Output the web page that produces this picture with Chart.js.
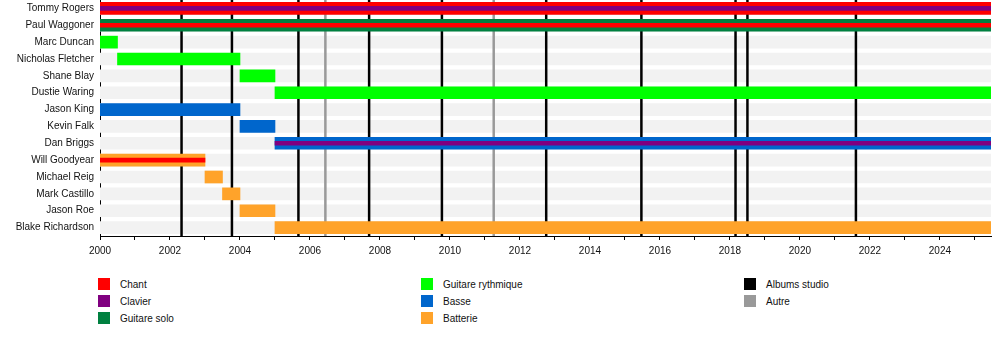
<!DOCTYPE html>
<html>
<head>
<meta charset="utf-8">
<script src="https://cdn.jsdelivr.net/npm/chart.js@4/dist/chart.umd.min.js"></script>
<style>
  body { margin: 0; background: #fff; font-family: "Liberation Sans", Arial, sans-serif; }
  #wrap { position: relative; width: 1000px; height: 364px; }
  #timeline { position: absolute; left: 0; top: 0; }
  .legend-item { position: absolute; font-size: 10px; color: #111; line-height: 12px; white-space: nowrap; }
  .legend-item span.box { position: absolute; left: 0; top: 0; width: 12px; height: 12px; }
  .legend-item span.txt { position: absolute; left: 22px; top: 1px; }
</style>
</head>
<body>
<div id="wrap">
  <canvas id="timeline" width="1000" height="264"></canvas>
  <div id="legend"></div>
</div>
<script>
// Membres (de haut en bas)
const members = ['Tommy Rogers', 'Paul Waggoner', 'Marc Duncan', 'Nicholas Fletcher', 'Shane Blay',
    'Dustie Waring', 'Jason King', 'Kevin Falk', 'Dan Briggs', 'Will Goodyear', 'Michael Reig',
    'Mark Castillo', 'Jason Roe', 'Blake Richardson'];

const PRESENT = 2025.46; // fin de la frise

const starts = [2000, 2000, 2000, 2000.5, 2004, 2005, 2000, 2004, 2005, 2000, 2003, 2003.5, 2004, 2005];
const ends = [PRESENT, PRESENT, 2000.5, 2004, 2005, PRESENT, 2004, 2005, PRESENT, 2003, 2003.5, 2004, 2005, PRESENT];

// Rôle principal et rôle secondaire (bande fine au centre)
const mainRoles = ['Chant', 'Guitare solo', 'Guitare rythmique', 'Guitare rythmique', 'Guitare rythmique',
    'Guitare rythmique', 'Basse', 'Basse', 'Basse', 'Batterie', 'Batterie', 'Batterie', 'Batterie', 'Batterie'];
const secondRoles = ['Clavier', 'Chant', null, null, null, null, null, null, 'Clavier', 'Chant', null, null, null, null];

const roleNames = ['Chant', 'Clavier', 'Guitare solo', 'Guitare rythmique', 'Basse', 'Batterie'];
const roleColors = ['#ff0000', '#800080', '#008040', '#00ff00', '#0066cc', '#ffa32a'];

const albumYears = [2002.33, 2003.77, 2005.67, 2007.69, 2009.77, 2012.75, 2015.47, 2018.16, 2018.5, 2021.6];
const otherYears = [2006.44, 2011.25];

const legendNames = ['Chant', 'Clavier', 'Guitare solo', 'Guitare rythmique', 'Basse', 'Batterie', 'Albums studio', 'Autre'];
const legendColors = ['#ff0000', '#800080', '#008040', '#00ff00', '#0066cc', '#ffa32a', '#000000', '#999999'];

// Construire les datasets
const datasets = [];

datasets.push({
    label: 'fond',
    data: members.map(() => [2000, PRESENT]),
    backgroundColor: '#f2f2f2',
    barThickness: 12,
    grouped: false,
    order: 3,
});

roleNames.forEach((role, r) => {
    const main = members.map((m, i) => (mainRoles[i] === role ? [starts[i], ends[i]] : null));
    if (main.some((v) => v)) {
        datasets.push({
            label: role,
            data: main,
            backgroundColor: roleColors[r],
            barThickness: 12,
            grouped: false,
            order: 2,
        });
    }
    const second = members.map((m, i) => (secondRoles[i] === role ? [starts[i], ends[i]] : null));
    if (second.some((v) => v)) {
        datasets.push({
            label: role + ' (2)',
            data: second,
            backgroundColor: roleColors[r],
            barThickness: 4,
            grouped: false,
            order: 1,
        });
    }
});

// Lignes verticales des albums, dessinées juste au-dessus du fond gris
const albumLines = {
    id: 'albumLines',
    afterDatasetDraw(chart, args) {
        if (args.index !== 0) return;
        const { ctx, chartArea, scales } = chart;
        const drawLines = (years, color) => {
            ctx.save();
            ctx.strokeStyle = color;
            ctx.lineWidth = 2.5;
            years.forEach((yr) => {
                const x = scales.x.getPixelForValue(yr);
                ctx.beginPath();
                ctx.moveTo(x, chartArea.top);
                ctx.lineTo(x, chartArea.bottom);
                ctx.stroke();
            });
            ctx.restore();
        };
        drawLines(otherYears, '#999999');
        drawLines(albumYears, '#000000');
    },
};

const chart = new Chart(document.getElementById('timeline'), {
    type: 'bar',
    data: { labels: members, datasets: datasets },
    options: {
        responsive: false,
        animation: false,
        indexAxis: 'y',
        layout: { padding: { top: -1, right: 9, left: 0, bottom: 0 } },
        plugins: {
            legend: { display: false },
            tooltip: { enabled: false },
        },
        scales: {
            y: {
                type: 'category',
                offset: true,
                grid: { display: true, drawOnChartArea: false, drawTicks: false },
                border: { display: true, color: '#000', width: 1 },
                ticks: {
                    color: '#111',
                    padding: 6,
                    font: { family: '"Liberation Sans", Arial, sans-serif', size: 10 },
                },
                afterFit: (scale) => {
                    scale.width = 100;
                    scale.paddingTop = 0;
                    scale.paddingBottom = 0;
                },
            },
            x: {
                type: 'linear',
                min: 2000,
                max: PRESENT,
                grid: { display: true, drawOnChartArea: false, drawTicks: true, tickLength: 4, color: '#000' },
                border: { display: true, color: '#000', width: 1 },
                ticks: {
                    stepSize: 1,
                    includeBounds: false,
                    autoSkip: false,
                    maxRotation: 0,
                    padding: 5,
                    color: '#111',
                    font: { family: '"Liberation Sans", Arial, sans-serif', size: 10 },
                    callback: (v) => (v % 2 === 0 ? String(v) : ''),
                },
                afterFit: (scale) => { scale.height = 28; },
            },
        },
    },
    plugins: [albumLines],
});

// Légende en trois colonnes
const legendCols = [98, 421, 744];
const legendRows = [278, 295, 312];
const legendEl = document.getElementById('legend');
legendNames.forEach((name, i) => {
    const col = Math.floor(i / 3);
    const row = i % 3;
    const item = document.createElement('div');
    item.className = 'legend-item';
    item.style.left = legendCols[col] + 'px';
    item.style.top = legendRows[row] + 'px';
    item.innerHTML = '<span class="box" style="background:' + legendColors[i] + '"></span><span class="txt">' + name + '</span>';
    legendEl.appendChild(item);
});
</script>
</body>
</html>
